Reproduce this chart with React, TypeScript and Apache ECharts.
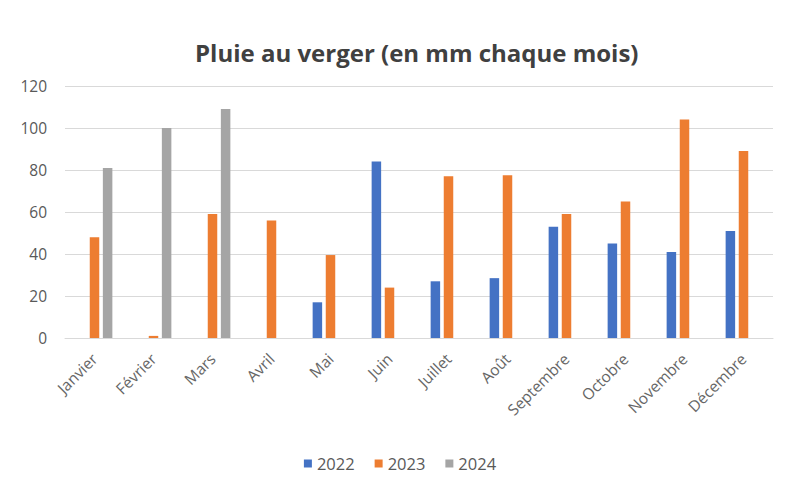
import React, { useEffect, useRef } from "react";
import * as echarts from "echarts";

const months = ["Janvier", "Février", "Mars", "Avril", "Mai", "Juin", "Juillet", "Août", "Septembre", "Octobre", "Novembre", "Décembre"];
const rain2022 = [null, null, null, null, 17, 84, 27, 28.5, 53, 45, 41, 51];
const rain2023 = [48, 1, 59, 56, 39.5, 24, 77, 77.5, 59, 65, 104, 89];
const rain2024 = [81, 100, 109, null, null, null, null, null, null, null, null, null];
const yTicks = [0, 20, 40, 60, 80, 100, 120];

export default function App() {
  const ref = useRef<HTMLDivElement>(null);
  useEffect(() => {
    if (!ref.current) return;
    const chart = echarts.init(ref.current, null, { renderer: "svg" });
    const font = "'Open Sans', 'Noto Sans', sans-serif";
    const mk = (name: string, data: (number | null)[], color: string) => ({
      name,
      type: "bar",
      data,
      barWidth: 9.5,
      barGap: "38%",
      itemStyle: { color },
    });
    chart.setOption({
      animation: false,
      backgroundColor: "#ffffff",
      title: {
        text: "Pluie au verger (en mm chaque mois)",
        left: 190,
        top: 35,
        textStyle: { fontFamily: font, fontSize: 24, fontWeight: "bold", color: "#404040" },
      },
      legend: {
        bottom: 27,
        left: "center",
        itemWidth: 8,
        itemHeight: 8,
        itemGap: 20,
        icon: "rect",
        textStyle: { fontFamily: font, fontSize: 16.5, color: "#595959" },
        data: ["2022", "2023", "2024"],
      },
      grid: { left: 65, right: 27, top: 86, bottom: 166, containLabel: false },
      xAxis: {
        type: "category",
        data: months,
        axisLine: { lineStyle: { color: "#d9d9d9" } },
        axisTick: { show: false },
        axisLabel: { rotate: 45, fontFamily: font, fontSize: 15.5, color: "#666666", interval: 0, margin: 18 },
      },
      yAxis: {
        type: "value",
        min: yTicks[0],
        max: yTicks[yTicks.length - 1],
        interval: 20,
        axisLine: { show: false },
        axisTick: { show: false },
        splitLine: { lineStyle: { color: "#d9d9d9" } },
        axisLabel: { fontFamily: font, fontSize: 15.5, color: "#595959", margin: 18 },
      },
      series: [mk("2022", rain2022, "#4472C4"), mk("2023", rain2023, "#ED7D31"), mk("2024", rain2024, "#A5A5A5")],
    });
    return () => chart.dispose();
  }, []);
  return (
    <div
      style={{
        position: "absolute",
        left: 0,
        top: 0,
        width: 800,
        height: 504,
        boxSizing: "border-box",
        border: "2px solid #d9d9d9",
        background: "#fff",
      }}
    >
      <div ref={ref} style={{ position: "absolute", left: -2, top: -2, width: 800, height: 504 }} />
    </div>
  );
}
